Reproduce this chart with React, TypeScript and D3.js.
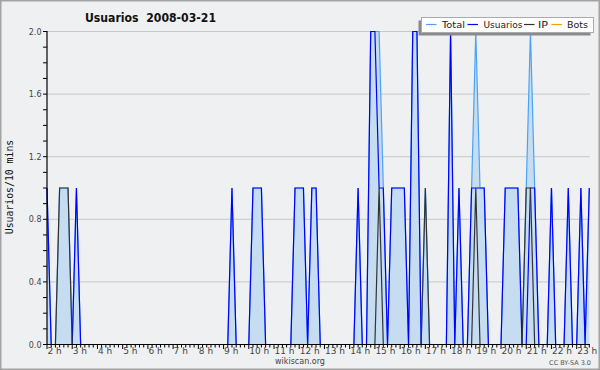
import React from "react";
import * as d3 from "d3";

const hourLabels = ["2 h","3 h","4 h","5 h","6 h","7 h","8 h","9 h","10 h","11 h","12 h","13 h","14 h","15 h","16 h","17 h","18 h","19 h","20 h","21 h","22 h","23 h"];
const yTicks = [0, 0.4, 0.8, 1.2, 1.6, 2.0];

// 10-minute slots from 02:00 to 23:30 (130 points)
const total = [
  1,0,0,1,1,1,0,1,0,0, 0,0,0,0,0,0,0,0,0,0, 0,0,0,0,0,0,0,0,0,0, 0,0,0,0,0,0,0,0,0,0,
  0,0,0,0,1,0,0,0,0,1, 1,1,0,0,0,0,0,0,0,1, 1,1,0,1,1,0,0,0,0,0, 0,0,0,0,1,0,0,2,2,2,
  1,0,1,1,1,1,0,2,2,0, 1,0,0,0,0,0,2,0,1,0, 0,1,2,1,1,0,0,0,0,1, 1,1,1,0,1,2,1,0,0,0,
  1,0,0,0,1,0,0,1,0,1
];
const usuarios = [
  1,0,0,0,0,0,0,1,0,0, 0,0,0,0,0,0,0,0,0,0, 0,0,0,0,0,0,0,0,0,0, 0,0,0,0,0,0,0,0,0,0,
  0,0,0,0,1,0,0,0,0,1, 1,1,0,0,0,0,0,0,0,1, 1,1,0,1,1,0,0,0,0,0, 0,0,0,0,1,0,0,2,2,1,
  1,0,1,1,1,1,0,2,2,0, 0,0,0,0,0,0,2,0,1,0, 0,1,1,1,1,0,0,0,0,1, 1,1,1,0,0,1,1,0,0,0,
  1,0,0,0,1,0,0,1,0,1
];
const ip = [
  0,0,0,1,1,1,0,0,0,0, 0,0,0,0,0,0,0,0,0,0, 0,0,0,0,0,0,0,0,0,0, 0,0,0,0,0,0,0,0,0,0,
  0,0,0,0,0,0,0,0,0,0, 0,0,0,0,0,0,0,0,0,0, 0,0,0,0,0,0,0,0,0,0, 0,0,0,0,0,0,0,0,0,1,
  0,0,0,0,0,0,0,0,0,0, 1,0,0,0,0,0,0,0,0,0, 0,0,1,0,0,0,0,0,0,0, 0,0,0,0,1,1,0,0,0,0,
  0,0,0,0,0,0,0,0,0,0
];
const bots = [
  0,0,0,0,0,0,0,0,0,0, 0,0,0,0,0,0,0,0,0,0, 0,0,0,0,0,0,0,0,0,0, 0,0,0,0,0,0,0,0,0,0,
  0,0,0,0,0,0,0,0,0,0, 0,0,0,0,0,0,0,0,0,0, 0,0,0,0,0,0,0,0,0,0, 0,0,0,0,0,0,0,0,0,0,
  0,0,0,0,0,0,0,0,0,0, 0,0,0,0,0,0,0,0,0,0, 0,0,0,0,0,0,0,0,0,0, 0,0,0,0,0,0,0,0,0,0,
  0,0,0,0,0,0,0,0,0,0
];

const legendItems = [
  { name: "Total", color: "#4aa3f5" },
  { name: "Usuarios", color: "#0000ff" },
  { name: "IP", color: "#333333" },
  { name: "Bots", color: "#ff9900" },
];

export default function App() {
  const W = 600, H = 370;
  const x = d3.scaleLinear().domain([0, total.length - 1]).range([47, 589.3]);
  const y = d3.scaleLinear().domain([0, 2]).range([344.5, 31.5]);
  const line = d3.line<number>().x((_, i) => x(i)).y((d) => y(d));
  const area = d3.area<number>().x((_, i) => x(i)).y0(y(0)).y1((d) => y(d));
  const minorY = d3.range(0, 21).map((k) => k / 10);
  const slots = d3.range(0, total.length);

  // legend layout
  const legX = 421.5, legY = 17.5, legW = 172, legH = 15;
  const legLineX = [426, 467.5, 524, 551.5];
  const legTextX = [442, 483.5, 538, 567];
  const legTextW = [23, 39, 10, 21];

  return (
    <div style={{ position: "absolute", left: 0, top: 0 }}>
      <svg width={W} height={H} style={{ display: "block" }}>
        <rect x={0} y={0} width={W} height={H} fill="#eff0f1" />
        <rect x={0.75} y={0.75} width={W - 1.5} height={H - 1.5} fill="none" stroke="#a3a3a3" strokeWidth={1.5} />
        {/* title */}
        <text x={150.5} y={21.5} textAnchor="middle" fontFamily="DejaVu Sans" fontWeight="bold" fontSize={13} fill="#111"
          textLength={131} lengthAdjust="spacingAndGlyphs" style={{ whiteSpace: "pre" }}>{"Usuarios\u00a0\u00a02008-03-21"}</text>
        {/* gridlines */}
        {yTicks.filter((t) => t > 0).map((t) => (
          <line key={"g" + t} x1={47} x2={590} y1={y(t)} y2={y(t)} stroke="#c8c8c8" strokeWidth={1} />
        ))}
        {/* area */}
        <path d={area(total) || ""} fill="#c6ddf1" />
        <path d={line(total) || ""} fill="none" stroke="#4aa3f5" strokeWidth={1.2} />
        <path d={line(usuarios) || ""} fill="none" stroke="#0000ff" strokeWidth={1.2} />
        <path d={line(ip) || ""} fill="none" stroke="#333333" strokeWidth={1.2} />
        <path d={line(bots) || ""} fill="none" stroke="#ff9900" strokeWidth={1.2} />
        {/* axes */}
        <line x1={47} x2={47} y1={31} y2={345} stroke="#000" strokeWidth={1.2} />
        <line x1={46} x2={590} y1={344.5} y2={344.5} stroke="#000" strokeWidth={1.2} />
        {minorY.map((t) => (
          <line key={"my" + t} x1={43} x2={47} y1={y(t)} y2={y(t)} stroke="#000" strokeWidth={1} />
        ))}
        {yTicks.map((t) => (
          <text key={"yl" + t} x={41.5} y={y(t) + 3} textAnchor="end" fontFamily="DejaVu Sans" fontSize={8} fill="#444">
            {d3.format(".1f")(t)}
          </text>
        ))}
        {slots.map((i) => (
          <line key={"mx" + i} x1={x(i)} x2={x(i)} y1={344.5} y2={i % 6 === 0 ? 349 : 347.5} stroke="#000" strokeWidth={1} />
        ))}
        {hourLabels.map((h, k) => (
          <text key={"xl" + h} x={x(k * 6) + 0.5} y={353.5} fontFamily="DejaVu Sans" fontSize={9} fill="#444">{h}</text>
        ))}
        <text x={10} y={187} transform="rotate(-90 10 187)" dy={3} textAnchor="middle" fontFamily="DejaVu Sans Mono" fontSize={9.8} fill="#111">Usuarios/10 mins</text>
        <text x={300} y={364} textAnchor="middle" fontFamily="DejaVu Sans" fontSize={8} fill="#444">wikiscan.org</text>
        <text x={591} y={365} textAnchor="end" fontFamily="DejaVu Sans" fontSize={6.5} fill="#555">CC BY-SA 3.0</text>
        {/* legend */}
        <rect x={legX - 3} y={legY + 3} width={legW} height={legH} fill="#8a8a8a" />
        <rect x={legX} y={legY} width={legW} height={legH} fill="#fff" stroke="#aaa" strokeWidth={1} />
        {legendItems.map((it, k) => (
          <g key={it.name}>
            <line x1={legLineX[k]} x2={legLineX[k] + 10.5} y1={legY + 7} y2={legY + 7} stroke={it.color} strokeWidth={1.2} />
            <text x={legTextX[k]} y={legY + 10.5} fontFamily="DejaVu Sans" fontSize={9} fill="#222"
              textLength={legTextW[k]} lengthAdjust="spacingAndGlyphs">{it.name}</text>
          </g>
        ))}
      </svg>
    </div>
  );
}
